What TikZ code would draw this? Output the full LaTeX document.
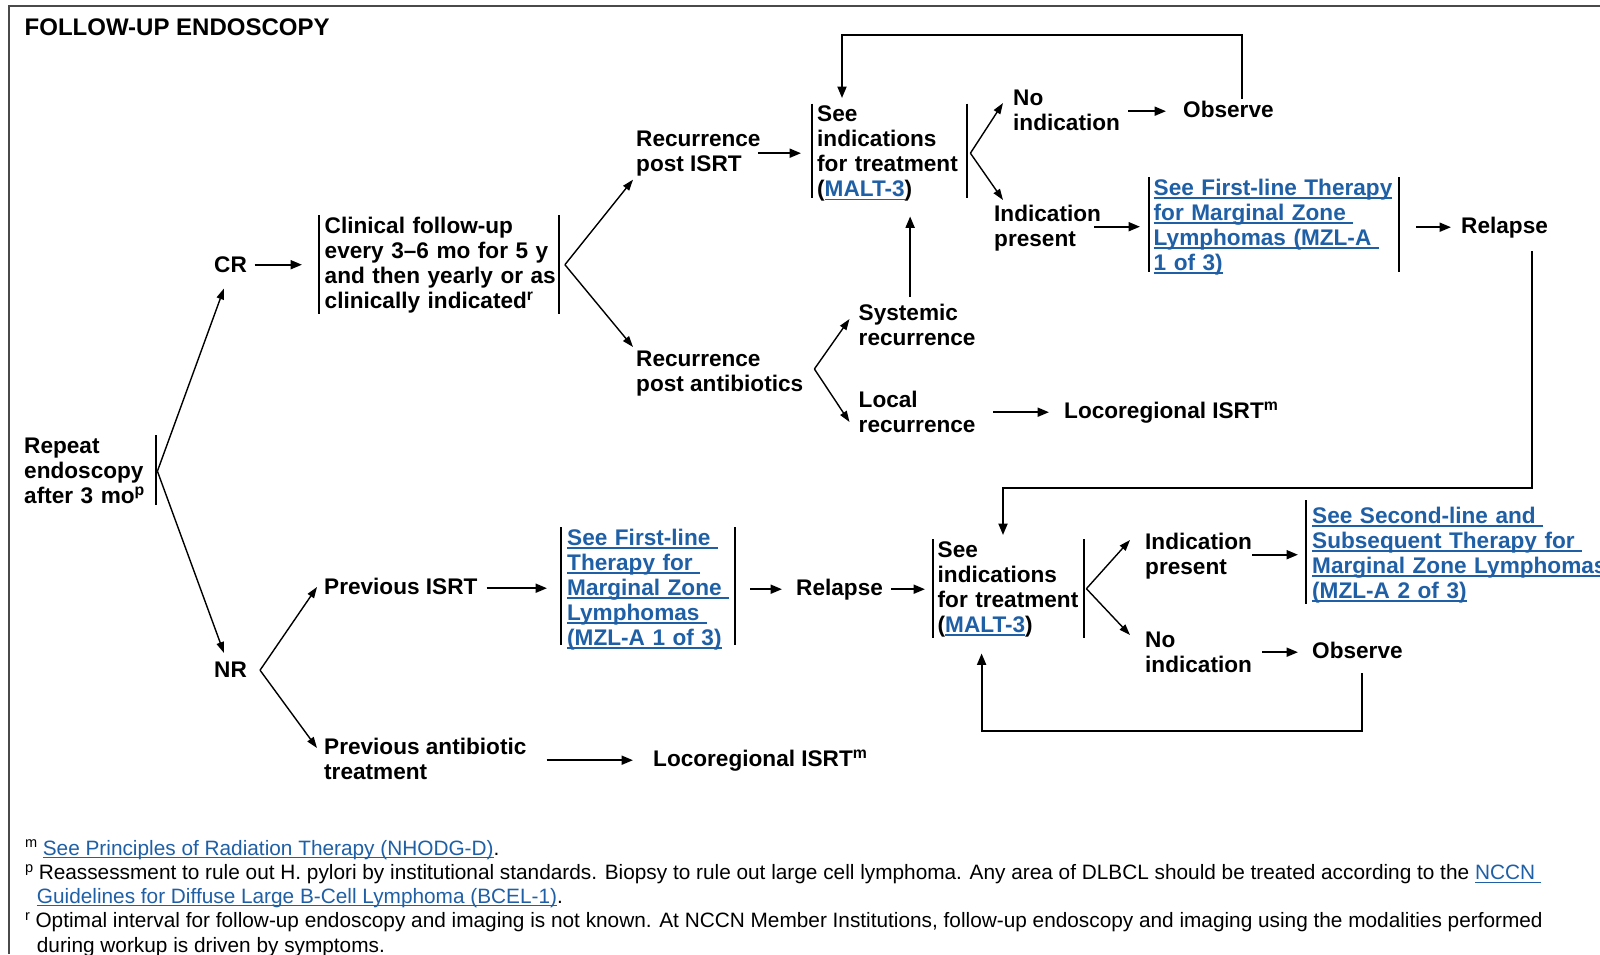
\documentclass[tikz,border=0pt]{standalone}
\usepackage{fontspec}
\setmainfont{Liberation Sans}
\usetikzlibrary{arrows.meta}
\definecolor{link}{HTML}{1F5FA6}
\definecolor{framegray}{HTML}{4A4A4A}
% struts: main text lines and footnote lines
\newcommand\s{\rule[-6pt]{0pt}{24pt}}
\newcommand\brk{\\\s}
\newcommand\fs{\rule[-5pt]{0pt}{20pt}}
\newcommand\fbrk{\\\fs}
% underlined cross-reference text
\newsavebox\lkbox
\newcommand\lk[1]{\sbox\lkbox{\color{link}#1}\rlap{\color{link}\rule[-3.6pt]{\wd\lkbox}{1.5pt}}\usebox\lkbox}
\newcommand\lkf[1]{\sbox\lkbox{\color{link}#1}\rlap{\color{link}\rule[-3.2pt]{\wd\lkbox}{1.1pt}}\usebox\lkbox}
\tikzset{
  txt/.style={anchor=north west, inner sep=0pt, align=left,
    font=\bfseries\fontsize{22.6}{25}\selectfont, execute at begin node=\s},
  boxed/.style 2 args={txt, inner xsep=#1, text width=#2},
  note/.style={anchor=north west, inner sep=0pt, align=left,
    font=\fontsize{20.8}{23.5}\selectfont, execute at begin node=\fs},
  bar/.style={line width=2pt},
  arr/.style={line width=2pt, -{Triangle[length=11.5pt,width=9pt]}},
  fork/.style={line width=1.4pt, -{Triangle[length=11pt,width=7.5pt]}},
  loopline/.style={line width=2pt, -{Triangle[length=11.5pt,width=9pt]}},
}
\begin{document}
\begin{tikzpicture}[x=1pt,y=-1pt]
\useasboundingbox (0,0) rectangle (1600,954);
\draw[framegray, line width=2pt] (9,954) -- (9,6) -- (1600,6);

% ---- nodes ----
\node[txt, font=\bfseries\fontsize{24}{25}\selectfont] (title) at (24.5,17) {FOLLOW-UP ENDOSCOPY};

\node[txt, text width=132pt] (rep) at (24,435) {Repeat\brk endoscopy\brk after 3 mo\textsuperscript{p}};
\node[txt] (cr) at (214,254) {CR};
\node[txt] (nr) at (214,659) {NR};

\node[boxed={5.5pt}{240pt}] (clin) at (319,215)
  {Clinical follow-up\brk every 3–6 mo for 5 y\brk and then yearly or as\brk clinically indicated\textsuperscript{r}};

\node[txt] (rpi) at (636,131.2) {Recurrence\brk post ISRT};
\node[txt] (rpa) at (636,351) {Recurrence\brk post antibiotics};

\node[boxed={5pt}{145pt}] (malt1) at (812,103.5) {See\brk indications\brk for treatment\brk (\lk{MALT-3})};
\node[txt] (noind1) at (1013,90) {No\brk indication};
\node[txt] (obs1) at (1183,99) {Observe};
\node[txt] (indp1) at (994,204.5) {Indication\brk present};
\node[boxed={5pt}{240.5pt}] (mzl1) at (1148.5,177)
  {\lk{See First-line Therapy}\brk\lk{for Marginal Zone\ }\brk\lk{Lymphomas (MZL-A\ }\brk\lk{1 of 3)}};
\node[txt] (relapse1) at (1461,215) {Relapse};

\node[txt] (sys) at (858.5,304) {Systemic\brk recurrence};
\node[txt] (loc) at (858.5,391) {Local\brk recurrence};
\node[txt] (loco1) at (1064,400) {Locoregional ISRT\textsuperscript{m}};

\node[txt] (prevI) at (324,576) {Previous ISRT};
\node[boxed={6pt}{162pt}] (mzl1b) at (561,527)
  {\lk{See First-line\ }\brk\lk{Therapy for\ }\brk\lk{Marginal Zone\ }\brk\lk{Lymphomas\ }\brk\lk{(MZL-A 1 of 3)}};
\node[txt] (relapse2) at (796,577) {Relapse};
\node[boxed={4.5pt}{142pt}] (malt2) at (933,539) {See\brk indications\brk for treatment\brk (\lk{MALT-3})};
\node[txt] (indp2) at (1145,532.5) {Indication\brk present};
\node[boxed={6.4pt}{330pt}] (mzl2) at (1305.6,505)
  {\lk{See Second-line and\ }\brk\lk{Subsequent Therapy for\ }\brk\lk{Marginal Zone Lymphomas}\brk\lk{(MZL-A 2 of 3)}};
\node[txt] (noind2) at (1145,631.5) {No\brk indication};
\node[txt] (obs2) at (1312,640) {Observe};

\node[txt] (prevA) at (324,738) {Previous antibiotic\brk treatment};
\node[txt] (loco2) at (653,748) {Locoregional ISRT\textsuperscript{m}};

% ---- side bars of the boxed steps (bottom trim, right-bar offset) ----
\foreach \b/\d/\r in {clin/0/-11, malt1/5/0, mzl1/4/0, mzl1b/6/0, malt2/0/0}
  \draw[bar] (\b.north west) -- ([yshift=\d]\b.south west)
             ([xshift=\r]\b.north east) -- ([xshift=\r,yshift=\d]\b.south east);
\draw[bar] (rep.north east) -- ([yshift=4]rep.south east);
\draw[bar] ([yshift=5]mzl2.north west) -- (mzl2.south west);

% ---- forks ----
\draw[fork] ([shift={(1,-1)}]rep.east) -- ([shift={(10,10)}]cr.south west);
\draw[fork] ([shift={(1,-1)}]rep.east) -- ([shift={(10,-6)}]nr.north west);
\draw[fork] ([xshift=-5.5]clin.east) -- ([shift={(-3,1.5)}]rpi.south west);
\draw[fork] ([xshift=-5.5]clin.east) -- ([shift={(-3,-4)}]rpa.north west);
\draw[fork] ([xshift=3]malt1.east) -- ([shift={(-10,13)}]noind1.north west);
\draw[fork] ([xshift=3]malt1.east) -- ([shift={(9,-4.5)}]indp1.north west);
\draw[fork] ([shift={(11,-5.5)}]rpa.east) -- ([shift={(-9,15)}]sys.north west);
\draw[fork] ([shift={(11,-5.5)}]rpa.east) -- ([shift={(-9,31)}]loc.north west);
\draw[fork] ([xshift=2]malt2.east) -- ([shift={(-15,7.5)}]indp2.north west);
\draw[fork] ([xshift=2]malt2.east) -- ([shift={(-15,3.5)}]noind2.north west);
\draw[fork] ([shift={(13,-1)}]nr.east) -- ([shift={(-7,11)}]prevI.north west);
\draw[fork] ([shift={(13,-1)}]nr.east) -- ([shift={(-7,10)}]prevA.north west);

% ---- straight arrows ----
\draw[arr, shorten <=7.5pt, shorten >=17pt] (clin.west -| cr.east) -- (clin.west);
\draw[arr, shorten <=-3pt, shorten >=11pt] (malt1.west -| rpi.east) -- (malt1.west);
\draw[arr, shorten <=8pt, shorten >=17pt] (obs1.west -| noind1.east) -- (obs1.west);
\draw[arr, shorten <=-7pt, shorten >=8.5pt] (mzl1.west -| indp1.east) -- (mzl1.west);
\draw[arr, shorten <=17pt, shorten >=10pt] (relapse1.west -| mzl1.east) -- (relapse1.west);
\draw[arr, shorten <=17.7pt, shorten >=15pt] (loco1.west -| loc.east) -- (loco1.west);
\draw[arr, shorten <=9pt, shorten >=14pt] (prevI.east) -- (prevI.east -| mzl1b.west);
\draw[arr, shorten <=15pt, shorten >=14pt] (relapse2.west -| mzl1b.east) -- (relapse2.west);
\draw[arr, shorten <=8pt, shorten >=8pt] (relapse2.east) -- (relapse2.east -| malt2.west);
\draw[arr, shorten >=7.6pt] (mzl2.west -| indp2.east) -- (mzl2.west);
\draw[arr, shorten <=10pt, shorten >=14pt] (obs2.west -| noind2.east) -- (obs2.west);
\draw[arr, shorten <=20pt, shorten >=20pt] (loco2.west -| prevA.east) -- (loco2.west);
\draw[arr, shorten >=13.5pt] ([shift={(-7,-7)}]sys.north) coordinate (s0) -- (s0 |- malt1.south);

% ---- return loops ----
\draw[loopline] ([xshift=14]obs1.north) -- ++(0,-64) -| ([shift={(30,-5.5)}]malt1.north west);
\draw[loopline] ([shift={(27,12)}]relapse1.south) -- ++(0,237) -| ([shift={(70,-4)}]malt2.north west);
\draw[loopline] ([shift={(5,9)}]obs2.south) -- ++(0,58) -| ([shift={(48.6,15)}]malt2.south west);

% ---- footnotes ----
\node[note] (fm) at (25,839.5) {\textsuperscript{m}\hspace{5pt}\lkf{See Principles of Radiation Therapy (NHODG-D)}.};
\node[note] (fp) at (25,864) {\textsuperscript{p}\hspace{5pt}Reassessment to rule out H. pylori by institutional standards. Biopsy to rule out large cell lymphoma. Any area of DLBCL should be treated according to the \lkf{NCCN\ }\fbrk\hspace*{11.7pt}\lkf{Guidelines for Diffuse Large B-Cell Lymphoma (BCEL-1)}.};
\node[note, font=\fontsize{20.8}{24.5}\selectfont] (fr) at (25,912) {\textsuperscript{r}\hspace{5pt}Optimal interval for follow-up endoscopy and imaging is not known. At NCCN Member Institutions, follow-up endoscopy and imaging using the modalities performed\fbrk\hspace*{11.7pt}during workup is driven by symptoms.};
\end{tikzpicture}
\end{document}
